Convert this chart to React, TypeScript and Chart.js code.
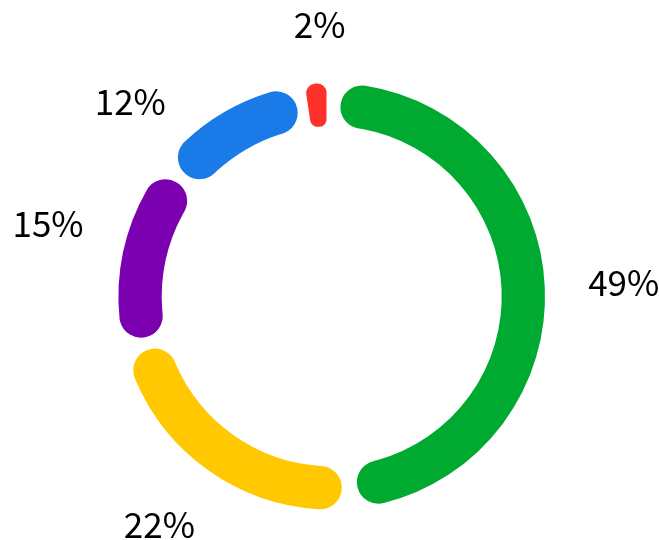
import React, { useEffect, useRef } from "react";
import { Chart, registerables } from "chart.js";

Chart.register(...registerables);

const categories = ["A", "B", "C", "D", "E"];
const values = [48.6, 22.45, 14.55, 12.0, 2.4];
const colors = ["#00AA30", "#FFC800", "#7B00B0", "#1A7AE8", "#FF322B"];
const total = values.reduce((a, b) => a + b, 0);
const labelTexts = values.map((v) => `${Math.round((v / total) * 100)}%`);

// small angular (degrees) and radial (px) nudges for label placement
const labelAngleNudge = [-0.2, -0.5, 3.5, -13.5, 1.9];
const labelRadialNudge = [-2, 7, 0, -3, 0];

const labelPlugin = {
  id: "outerLabels",
  afterDatasetsDraw(chart: any) {
    const ctx = chart.ctx;
    const meta = chart.getDatasetMeta(0);
    ctx.save();
    ctx.font = '35px "Noto Sans CJK SC"';
    ctx.fillStyle = "#000";
    ctx.textAlign = "center";
    ctx.textBaseline = "alphabetic";
    meta.data.forEach((arc: any, i: number) => {
      const { x, y, startAngle, endAngle, outerRadius } = arc.getProps(
        ["x", "y", "startAngle", "endAngle", "outerRadius"],
        true
      );
      const mid = (startAngle + endAngle) / 2 + (labelAngleNudge[i] * Math.PI) / 180;
      const dx = Math.cos(mid);
      const dy = Math.sin(mid);
      const text = labelTexts[i];
      const m = ctx.measureText(text);
      const w = m.width;
      const h = m.actualBoundingBoxAscent;
      const r = outerRadius + 43 + labelRadialNudge[i];
      const cx = x + dx * r + (dx * w) / 2;
      const cy = y + dy * r + (dy * h) / 2;
      ctx.fillText(text, cx, cy + h / 2);
    });
    ctx.restore();
  },
};

export default function App() {
  const ref = useRef<HTMLCanvasElement>(null);
  useEffect(() => {
    if (!ref.current) return;
    const chart = new Chart(ref.current, {
      type: "doughnut",
      data: {
        labels: categories,
        datasets: [
          {
            data: values,
            backgroundColor: colors,
            borderColor: "#ffffff",
            borderWidth: 10,
            borderRadius: 40,
            spacing: 5,
            hoverOffset: 0,
          },
        ],
      },
      options: {
        responsive: false,
        animation: false,
        cutout: "75.3%",
        layout: { padding: { left: 108.4, right: 104, top: 73, bottom: 20.4 } },
        plugins: { legend: { display: false }, tooltip: { enabled: false } },
      },
      plugins: [labelPlugin],
    });
    return () => chart.destroy();
  }, []);
  return (
    <div style={{ position: "fixed", left: 0, top: 0, width: 659, height: 540, background: "#fff" }}>
      <canvas ref={ref} width={659} height={540} />
    </div>
  );
}
